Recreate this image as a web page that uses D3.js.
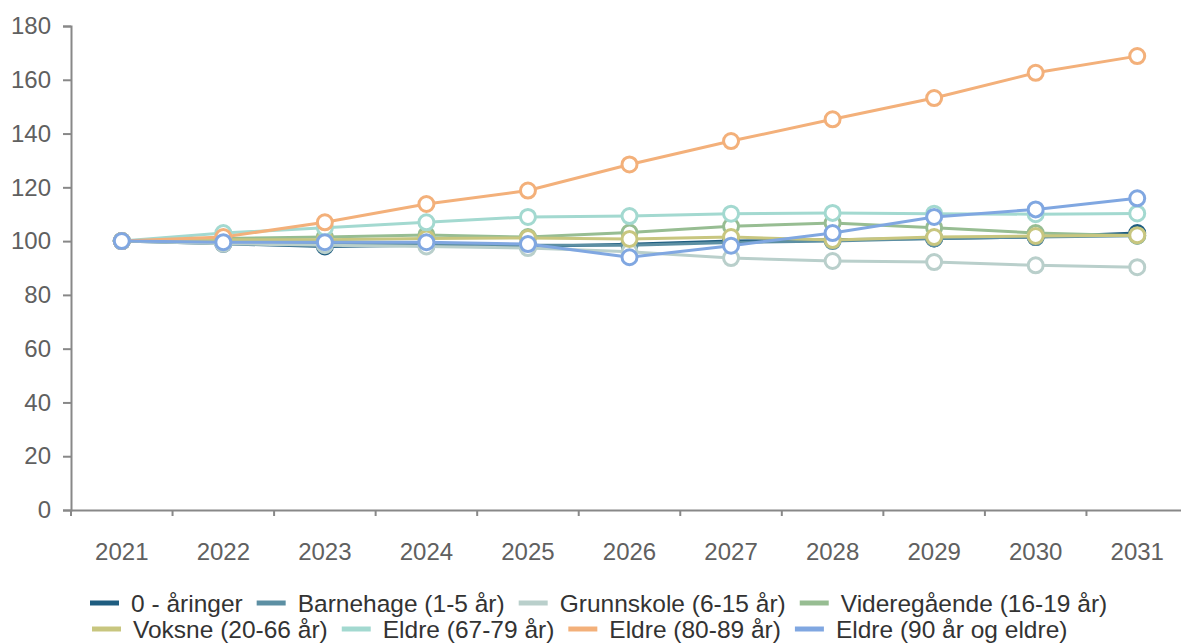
<!DOCTYPE html>
<html>
<head>
<meta charset="utf-8">
<script src="https://cdn.jsdelivr.net/npm/d3@7"></script>
<style>
  body { margin: 0; background: #fff; }
  text { font-family: "Liberation Sans", Arial, sans-serif; }
</style>
</head>
<body>
<script>
// data
var years = ["2021","2022","2023","2024","2025","2026","2027","2028","2029","2030","2031"];
var seriesNames = ["0 - åringer","Barnehage (1-5 år)","Grunnskole (6-15 år)","Videregående (16-19 år)",
                   "Voksne (20-66 år)","Eldre (67-79 år)","Eldre (80-89 år)","Eldre (90 år og eldre)"];
var aaringer    = [100, 99, 98, 98.5, 98, 98.8, 100, 100.5, 101, 101.5, 103];
var barnehage   = [100, 99.5, 99, 99, 98.5, 98.5, 99.5, 100, 101, 101.5, 102];
var grunnskole  = [100, 99, 98.5, 98, 97.4, 96, 93.7, 92.6, 92.2, 91, 90.3];
var videregaa   = [100, 101, 101.5, 102.3, 101.5, 103.2, 105.5, 106.7, 105, 103, 102];
var voksne      = [100, 100.5, 100.5, 101, 101.2, 100.8, 101.5, 100.4, 101.5, 101.9, 102.2];
var eldre6779   = [100, 103, 105, 107, 109, 109.3, 110.2, 110.5, 110.2, 110, 110.3];
var eldre8089   = [100, 101.5, 107, 113.8, 118.8, 128.5, 137.2, 145.3, 153.2, 162.6, 168.8];
var eldre90     = [100, 99.6, 99.6, 99.6, 98.9, 94, 98.3, 103, 109, 111.8, 115.9];
var colors = ["#1f5d80","#5c8fa3","#b9cfcb","#97bd92","#c8c67f","#a3d9d0","#f3b07a","#80a7e1"];
var yTicks = [0,20,40,60,80,100,120,140,160,180];

var allSeries = [aaringer, barnehage, grunnskole, videregaa, voksne, eldre6779, eldre8089, eldre90];

var W = 1181, H = 643;
var margin = {top: 26, left: 71, bottom: 133};
var plotRight = 1188;

var svg = d3.select("body").append("svg")
  .attr("width", W).attr("height", H);

var x = d3.scaleBand().domain(years).range([margin.left, plotRight]);
var y = d3.scaleLinear().domain([0, 180]).range([H - margin.bottom, margin.top]);

/*** axes ***/
var yAxis = svg.append("g")
  .attr("transform", "translate(" + margin.left + ",0)")
  .call(d3.axisLeft(y).tickValues(yTicks).tickSize(8).tickPadding(12));
var xAxis = svg.append("g")
  .attr("transform", "translate(0," + y(0) + ")")
  .call(d3.axisBottom(x).tickSize(0).tickPadding(33));

// band boundary ticks
xAxis.selectAll(".bt")
  .data(years)
  .enter().append("line")
  .attr("x1", function(d){ return x(d); })
  .attr("x2", function(d){ return x(d); })
  .attr("y1", 0).attr("y2", 6)
  .attr("stroke", "#888").attr("stroke-width", 2);

[yAxis, xAxis].forEach(function(a){
  a.select(".domain").attr("stroke", "#888").attr("stroke-width", 2);
  a.selectAll(".tick line").attr("stroke", "#888").attr("stroke-width", 2);
  a.selectAll("text").attr("fill", "#606060").style("font-size", "24px");
});

/*** lines ***/
var line = d3.line()
  .x(function(d, i){ return x(years[i]) + x.bandwidth() / 2; })
  .y(function(d){ return y(d); });

var g = svg.selectAll(".series")
  .data(allSeries)
  .enter().append("g").attr("class", "series");

g.append("path")
  .attr("d", function(d){ return line(d); })
  .attr("fill", "none")
  .attr("stroke", function(d, i){ return colors[i]; })
  .attr("stroke-width", 3);

g.each(function(s, si){
  d3.select(this).selectAll("circle")
    .data(s)
    .enter().append("circle")
    .attr("cx", function(d, i){ return x(years[i]) + x.bandwidth() / 2; })
    .attr("cy", function(d){ return y(d); })
    .attr("r", 7.5)
    .attr("fill", "#fff")
    .attr("stroke", colors[si])
    .attr("stroke-width", 3);
});

/*** legend ***/
var rows = [seriesNames.slice(0, 4), seriesNames.slice(4)];
var rowY = [603, 629];
var rowX = [90, 92];
var legend = svg.append("g");
rows.forEach(function(row, r){
  var rg = legend.append("g")
    .attr("transform", "translate(" + rowX[r] + "," + rowY[r] + ")");
  var cx = 0;
  row.forEach(function(name, k){
    var idx = r * 4 + k;
    var item = rg.append("g").attr("transform", "translate(" + cx + ",0)");
    item.append("line")
      .attr("x1", 0).attr("x2", 29).attr("y1", 0).attr("y2", 0)
      .attr("stroke", colors[idx]).attr("stroke-width", 5);
    var t = item.append("text")
      .attr("x", 41).attr("dy", "0.35em")
      .attr("fill", "#333").style("font-size", "24.5px")
      .text(name);
    cx += 41 + t.node().getComputedTextLength() + 14;
  });
});
</script>
</body>
</html>
